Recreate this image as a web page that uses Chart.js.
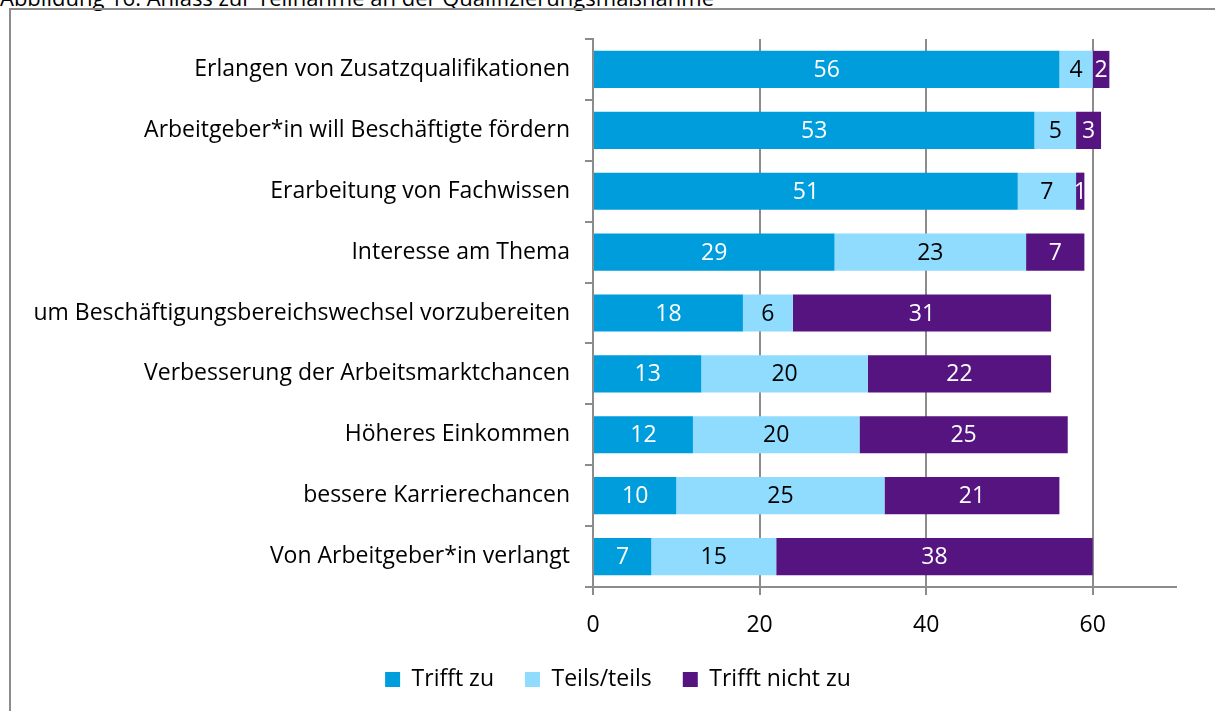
<!DOCTYPE html>
<html>
<head>
<meta charset="utf-8">
<script src="https://cdn.jsdelivr.net/npm/chart.js@4"></script>
<style>
  body { margin: 0; background: #fff; overflow: hidden; }
  #wrap { position: relative; width: 1215px; height: 711px; overflow: hidden; }
  #frame { position: absolute; left: 9px; top: 8px; width: 1230px; height: 730px; border: 2px solid #8c8c8c; pointer-events: none; }
  #cap { position: absolute; left: 0px; top: -14px; font: 22px "Open Sans", sans-serif; line-height: 22px; color: #000; white-space: nowrap; }
  canvas { position: absolute; left: 0; top: 0; }
</style>
</head>
<body>
<div id="wrap">
  <div id="cap">Abbildung 16: Anlass zur Teilnahme an der Qualifizierungsmaßnahme</div>
  <div id="frame"></div>
  <canvas id="c" width="1215" height="711"></canvas>
</div>
<script>
const categories = [
  "Erlangen von Zusatzqualifikationen",
  "Arbeitgeber*in will Beschäftigte fördern",
  "Erarbeitung von Fachwissen",
  "Interesse am Thema",
  "um Beschäftigungsbereichswechsel vorzubereiten",
  "Verbesserung der Arbeitsmarktchancen",
  "Höheres Einkommen",
  "bessere Karrierechancen",
  "Von Arbeitgeber*in verlangt"
];
const trifftZu = [56, 53, 51, 29, 18, 13, 12, 10, 7];
const teilsTeils = [4, 5, 7, 23, 6, 20, 20, 25, 15];
const trifftNicht = [2, 3, 1, 7, 31, 22, 25, 21, 38];
const xTicks = [0, 20, 40, 60];

const FONT = "'Open Sans', sans-serif";
const FSIZE = 23;
const GRID = "#8c8c8c";

// Werte in die Balken schreiben
const valueLabels = {
  id: "valueLabels",
  afterDatasetsDraw(chart) {
    const ctx = chart.ctx;
    ctx.save();
    ctx.font = FSIZE + "px " + FONT;
    ctx.textAlign = "center";
    ctx.textBaseline = "middle";
    chart.data.datasets.forEach((ds, i) => {
      const meta = chart.getDatasetMeta(i);
      meta.data.forEach((bar, j) => {
        ctx.fillStyle = ds.labelColor;
        ctx.fillText(ds.data[j], (bar.x + bar.base) / 2, bar.y + 1);
      });
    });
    ctx.restore();
  }
};

// Legende etwas nach rechts schieben
const legendShift = {
  id: "legendShift",
  afterLayout(chart) {
    chart.legend.left += 30;
    chart.legend.right += 30;
  }
};

new Chart(document.getElementById("c").getContext("2d"), {
  type: "bar",
  data: {
    labels: categories,
    datasets: [
      { label: "Trifft zu", data: trifftZu, backgroundColor: "#009ddc", labelColor: "#fff" },
      { label: "Teils/teils", data: teilsTeils, backgroundColor: "#8fdcff", labelColor: "#000" },
      { label: "Trifft nicht zu", data: trifftNicht, backgroundColor: "#561480", labelColor: "#fff" }
    ]
  },
  options: {
    indexAxis: "y",
    responsive: false,
    animation: false,
    layout: { padding: { top: 39, right: 39, bottom: 10, left: 0 } },
    datasets: { bar: { barPercentage: 0.61, categoryPercentage: 1 } },
    scales: {
      x: {
        stacked: true,
        min: 0,
        max: 70,
        afterBuildTicks: s => { s.ticks = xTicks.map(v => ({ value: v })); },
        ticks: { color: "#000", font: { family: FONT, size: FSIZE }, padding: 17 },
        grid: { color: GRID, lineWidth: 2, tickLength: 8 },
        border: { color: GRID, width: 2 },
        afterFit: s => { s.height = 50; }
      },
      y: {
        stacked: true,
        ticks: { color: "#000", font: { family: FONT, size: FSIZE }, padding: 15 },
        grid: { drawOnChartArea: false, color: GRID, lineWidth: 2, tickLength: 8, offset: true },
        border: { color: GRID, width: 2 },
        afterFit: s => { s.width = 593; }
      }
    },
    plugins: {
      legend: {
        position: "bottom",
        labels: { color: "#000", font: { family: FONT, size: FSIZE }, boxWidth: 15, boxHeight: 15, padding: 31 }
      },
      tooltip: { enabled: false }
    }
  },
  plugins: [valueLabels, legendShift]
});
</script>
</body>
</html>
